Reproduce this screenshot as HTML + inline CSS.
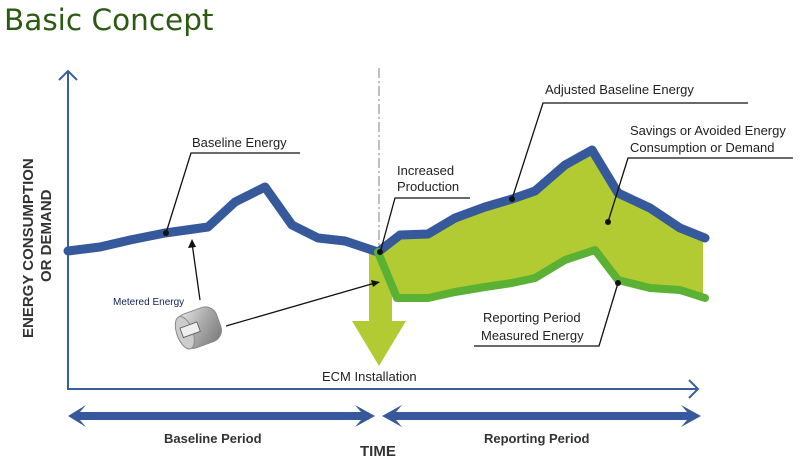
<!DOCTYPE html>
<html><head><style>
body{margin:0;background:#fff;}
svg text{font-family:"Liberation Sans",sans-serif;}
</style></head><body>
<svg width="809" height="465" viewBox="0 0 809 465" xmlns="http://www.w3.org/2000/svg">
<text x="4" y="30" font-size="29.5" fill="#2d5a12" style="font-family:'DejaVu Sans',sans-serif">Basic Concept</text>
<!-- axes -->
<line x1="68" y1="72" x2="68" y2="389" stroke="#3a5fa0" stroke-width="2"/>
<polyline points="59,80 68,71 77,80" fill="none" stroke="#3a5fa0" stroke-width="2"/>
<line x1="67" y1="389" x2="698" y2="389" stroke="#3a5fa0" stroke-width="2"/>
<polyline points="689,380 698,389 689,398" fill="none" stroke="#3a5fa0" stroke-width="2"/>
<text transform="translate(33,338) rotate(-90)" font-size="15" font-weight="bold" fill="#333">ENERGY CONSUMPTION</text>
<text transform="translate(51,282) rotate(-90)" font-size="15" font-weight="bold" fill="#333">OR DEMAND</text>
<!-- dash dot -->
<line x1="379" y1="68" x2="379" y2="250" stroke="#aaa" stroke-width="1.5" stroke-dasharray="10,3,2,3"/>
<!-- green fill -->
<polygon points="378,252 400,235 428,234 455,218 485,207 512,199 535,191 565,165 592,150 618,193 650,208 680,228 703,238 703,298 680,290 650,288 618,280 595,250 565,260 535,278 512,283 485,287 455,292 428,298 397,298" fill="#b2cb32"/>
<rect x="369" y="252" width="23" height="70" fill="#b2cb32"/>
<polygon points="352,321 406,321 379,366" fill="#b2cb32"/>
<!-- lines -->
<polyline points="68,251 100,247 130,240 165,233 208,227 235,202 265,187 292,225 318,238 345,241 378,252" fill="none" stroke="#36599b" stroke-width="9" stroke-linejoin="round" stroke-linecap="round"/>
<polyline points="378,252 400,235 428,234 455,218 485,207 512,199 535,191 565,165 592,150 618,193 650,208 680,228 705,238" fill="none" stroke="#36599b" stroke-width="9" stroke-linejoin="round" stroke-linecap="round"/>
<polyline points="378,252 397,298 428,298 455,292 485,287 512,283 535,278 565,260 595,250 618,280 650,288 680,290 705,298" fill="none" stroke="#5bb133" stroke-width="8" stroke-linejoin="round" stroke-linecap="round"/>
<!-- leaders -->
<g stroke="#111" stroke-width="1.3" fill="none">
<polyline points="166,233 191,153 300,153"/>
<polyline points="380,253 395,198 470,198"/>
<polyline points="512,199 543,103 748,103"/>
<polyline points="608,222 628,158 793,158"/>
<polyline points="618,283 599,346 474,346"/>
<line x1="200" y1="300" x2="192" y2="243"/>
<line x1="226" y1="326" x2="375" y2="283"/>
</g>
<g fill="#111">
<circle cx="166" cy="233" r="3"/><circle cx="380" cy="252" r="3"/><circle cx="512" cy="199" r="3"/><circle cx="608" cy="222" r="3"/><circle cx="618" cy="283" r="3"/>
<polygon points="192,239 188,248 196,247"/>
<polygon points="380,282 371,280 373,287"/>
</g>
<g font-size="13" fill="#222">
<text x="192" y="147">Baseline Energy</text>
<text x="397" y="175">Increased</text>
<text x="397" y="191">Production</text>
<text x="545" y="94">Adjusted Baseline Energy</text>
<text x="630" y="135">Savings or Avoided Energy</text>
<text x="630" y="152">Consumption or Demand</text>
<text x="483" y="322">Reporting Period</text>
<text x="481" y="340">Measured Energy</text>
<text x="322" y="381">ECM Installation</text>
</g>
<text x="113" y="305" font-size="10" fill="#112255">Metered Energy</text>
<!-- meter -->
<defs><linearGradient id="m" x1="0" y1="0" x2="1" y2="1"><stop offset="0" stop-color="#eee"/><stop offset="0.5" stop-color="#aaa"/><stop offset="1" stop-color="#777"/></linearGradient></defs>
<g transform="rotate(-20 198 328)">
<rect x="178" y="310" width="42" height="36" rx="12" fill="url(#m)" stroke="#888"/>
<ellipse cx="184" cy="328" rx="8" ry="17" fill="#ccc" stroke="#888"/>
<rect x="181" y="322" width="18" height="10" fill="#eee" stroke="#555" stroke-width="0.8"/>
</g>
<!-- period arrows -->
<g fill="#36599b">
<polygon points="68,416 86,405 80,412 361,412 355,405 375,416 355,427 361,420 80,420 86,427"/>
<polygon points="382,416 402,405 396,412 687,412 681,405 701,416 681,427 687,420 396,420 402,427"/>
</g>
<g font-size="13" font-weight="bold" fill="#333">
<text x="164" y="443">Baseline Period</text>
<text x="484" y="443">Reporting Period</text>
<text x="360" y="456" font-size="15">TIME</text>
</g>
</svg>
</body></html>
